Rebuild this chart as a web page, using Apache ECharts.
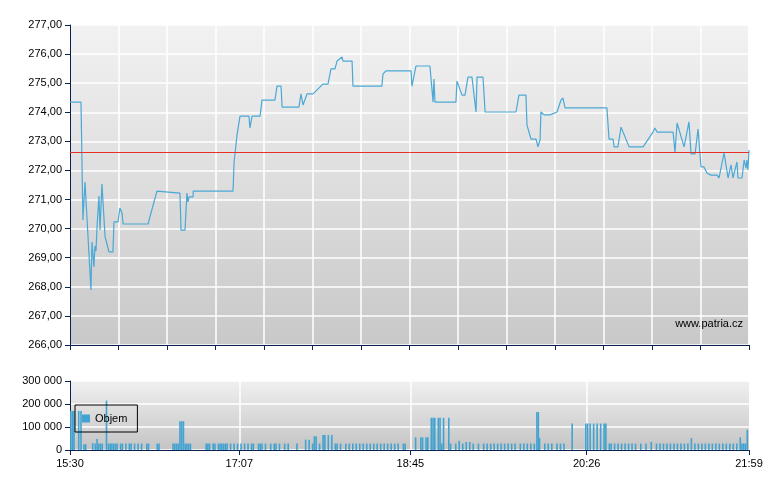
<!DOCTYPE html>
<html>
<head>
<meta charset="utf-8">
<script src="https://cdn.jsdelivr.net/npm/echarts@6/dist/echarts.min.js"></script>
<style>html,body{margin:0;padding:0;background:#fff}#c{width:780px;height:490px}</style>
</head>
<body>
<div id="c"></div>
<script>
// minutes after 15:30, price
const price = [
  [0,274.35],[0.6,274.35],[6.3,274.35],[7.4,270.30],[8.0,270.30],[8.6,271.60],[12.0,267.89],[12.6,269.54],[13.7,268.68],
  [14.3,269.40],[14.9,269.23],[15.5,270.09],[16.6,271.12],[17.2,269.95],[18.3,271.53],[20.1,269.71],[20.6,269.61],
  [22.3,269.20],[24.6,269.20],[25.2,270.23],[27.5,270.23],[28.6,270.71],[29.8,270.54],[30.4,270.16],[44.7,270.16],
  [49.8,271.29],[63.0,271.22],[63.6,269.95],[65.9,269.95],[67.0,271.22],[67.6,270.92],[68.2,271.09],[70.5,271.09],
  [70.6,271.29],[93.4,271.29],[94.0,272.29],[95.1,272.29],[95.7,273.22],[97.4,273.87],[102.5,273.87],[103.1,273.46],
  [104.3,273.87],[108.9,273.87],[110.0,274.42],[117.4,274.42],[118.6,274.90],[120.9,274.90],[121.5,274.18],
  [131.2,274.18],[132.3,274.63],[133.5,274.25],[135.8,274.63],[139.2,274.63],[144.9,274.97],[147.8,274.97],
  [149.5,275.49],[151.8,275.49],[153.0,275.76],[155.8,275.90],[156.4,275.76],[161.6,275.76],[162.1,274.90],
  [178.7,274.90],[179.3,275.32],[181.0,275.42],[195.4,275.42],[195.9,274.90],[198.2,275.59],[206.2,275.59],
  [208.0,274.35],[208.5,275.14],[209.1,274.35],[221.1,274.35],[221.7,275.07],[224.6,274.59],[226.3,274.59],
  [228.0,275.21],[230.3,275.21],[232.6,274.01],[233.2,275.21],[236.6,275.21],[237.8,274.01],[255.5,274.01],
  [257.2,274.59],[261.2,274.59],[261.8,273.56],[264.1,273.08],[267.0,273.08],[268.1,272.81],[269.3,273.05],
  [269.8,274.01],[271.6,273.91],[275.0,273.91],[276.1,273.91],[279.0,274.01],[281.3,274.42],[282.4,274.49],
  [283.6,274.15],[307.6,274.15],[308.8,273.08],[311.1,273.08],[311.7,272.81],[313.9,272.81],[315.7,273.49],
  [316.8,273.46],[320.3,272.81],[328.3,272.81],[334.0,273.32],[335.1,273.46],[336.3,273.32],[345.5,273.32],
  [346.6,272.63],[347.8,273.63],[351.8,272.81],[354.6,273.67],[355.8,272.57],[358.1,272.57],[359.8,273.42],
  [361.5,272.12],[363.2,272.12],[364.9,271.91],[367.2,271.84],[370.7,271.84],[371.8,271.74],[374.7,272.60],
  [377.0,271.74],[378.7,272.19],[379.8,271.74],[382.1,272.29],[382.7,271.74],[385.0,271.74],[386.2,272.36],
  [387.3,272.08],[387.8,272.36],[388.4,272.02],[389.0,272.70]
];
const refPrice = 272.63;
const volume = [
  [0.5,170000],[1.5,170000],[2.3,170000],[5,170000],[6.3,170000],[8,25000],[9,25000],[13,30000],[14.5,28000],[15.5,48000],
  [16.5,28000],[17.5,28000],[18.5,28000],[20.9,215000],[22,28000],[23,28000],[24,28000],[25,28000],[26,28000],[27,28000],
  [29,28000],[30,28000],[32,28000],[34,28000],[35,28000],[37,28000],[39,28000],[41,28000],[44,28000],[45,28000],
  [50,28000],[51,28000],[59,28000],[60,28000],[61,28000],[62,28000],[63,125000],[64,125000],[65,125000],[66,28000],
  [67,28000],[68,28000],[69,28000],[78,28000],[79,28000],[80,28000],[82,28000],[83,28000],[85,28000],[86,28000],
  [87,28000],[88,28000],[89,28000],[90,28000],[92,28000],[94,28000],[96,28000],[98,28000],[100,28000],[102,28000],
  [104,28000],[105,28000],[108,28000],[109,28000],[110,28000],[112,28000],[115,28000],[117,28000],[118,28000],
  [120,28000],[123,28000],[125,28000],[130,28000],[135,45000],[137,45000],[139,28000],[140,60000],[141,60000],
  [143,28000],[145,65000],[146,65000],[148,65000],[150,65000],[152,28000],[153,28000],[155,28000],[158,28000],
  [160,28000],[162,28000],[164,28000],[166,28000],[168,28000],[170,28000],[172,28000],[174,28000],[176,28000],
  [178,28000],[180,28000],[182,28000],[184,28000],[186,28000],[188,28000],[191,28000],[192,28000],
  [198,55000],[201,55000],[202,55000],[204,55000],[205,55000],[207,140000],[208,140000],[209,140000],[211,140000],
  [212,140000],[213,28000],[214,140000],[217,140000],[218,28000],[221,28000],[223,40000],[225,28000],[227,35000],
  [229,35000],[231,28000],[234,28000],[237,28000],[239,28000],[241,28000],[243,28000],[245,28000],[247,28000],
  [249,28000],[251,28000],[253,28000],[255,28000],[258,28000],[260,28000],[262,28000],[264,28000],[266,28000],
  [267.5,165000],[268.3,165000],[269,52000],[272,28000],[274,28000],[276,28000],[279,28000],[281,28000],[283,28000],
  [287.7,115000],[295.5,115000],[296.5,115000],[298,115000],[300,115000],[302,115000],[304,115000],[306,115000],
  [307,115000],[309,28000],[310,28000],[312,28000],[314,28000],[316,28000],[318,28000],[320,28000],[322,28000],
  [324,28000],[327,28000],[330,28000],[333,35000],[336,28000],[338,28000],[340,28000],[342,28000],[344,28000],
  [346,28000],[348,28000],[350,28000],[352,28000],[354,28000],[356,52000],[358,28000],[360,28000],[362,28000],
  [364,28000],[366,28000],[368,28000],[370,28000],[372,28000],[374,28000],[376,28000],[378,28000],[380,28000],
  [382,28000],[384,55000],[385,28000],[386,28000],[387,28000],[388,88000]
];
const timeTicks = [0, 97, 195, 296, 389];
const timeLabels = ["15:30", "17:07", "18:45", "20:26", "21:59"];

const navy = "#0b2150";
const bg = new echarts.graphic.LinearGradient(0, 0, 0, 1, [
  { offset: 0, color: "#f2f2f2" }, { offset: 1, color: "#c8c8c8" }
]);
const lab = { color: "#000", fontFamily: "Arial, Liberation Sans", fontSize: 11 };

const chart = echarts.init(document.getElementById("c"));
chart.setOption({
  animation: false,
  grid: [
    { left: 70, right: 31, top: 25, height: 320, show: true, backgroundColor: bg, borderWidth: 0 },
    { left: 70, right: 31, top: 381, height: 69, show: true, backgroundColor: new echarts.graphic.LinearGradient(0, 0, 0, 1, [
      { offset: 0, color: "#f0f0f0" }, { offset: 1, color: "#c4c4c4" }]), borderWidth: 0 }
  ],
  legend: {
    left: 75, top: 405, data: ["Objem"], orient: "vertical",
    padding: [8, 10, 8, 7], borderColor: "#000", borderWidth: 1, itemWidth: 8, itemHeight: 8,
    itemGap: 0, textStyle: { ...lab, fontSize: 11 }, icon: "rect", selectedMode: false
  },
  xAxis: [
    { type: "value", gridIndex: 0, min: 0, max: 389, interval: 389 / 14,
      axisLine: { onZero: false, lineStyle: { color: navy } },
      axisTick: { length: 5, lineStyle: { color: navy } },
      axisLabel: { show: false },
      splitLine: { lineStyle: { color: "#fff", width: 1.5 } } },
    { type: "value", gridIndex: 1, min: 0, max: 389,
      axisLine: { onZero: false, lineStyle: { color: navy } },
      axisTick: { customValues: timeTicks, length: 5, lineStyle: { color: navy } },
      axisLabel: { ...lab, customValues: timeTicks, formatter: v => timeLabels[timeTicks.indexOf(v)] || "" },
      splitLine: { show: false } }
  ],
  yAxis: [
    { type: "value", gridIndex: 0, min: 266, max: 277, interval: 1,
      axisLine: { show: true, lineStyle: { color: navy } },
      axisTick: { show: true, length: 5, lineStyle: { color: navy } },
      axisLabel: { ...lab, formatter: v => v.toFixed(2).replace(".", ",") },
      splitLine: { lineStyle: { color: "#fff", width: 1.5 } } },
    { type: "value", gridIndex: 1, min: 0, max: 300000, interval: 100000,
      axisLine: { show: true, lineStyle: { color: navy } },
      axisTick: { show: true, length: 5, lineStyle: { color: navy } },
      axisLabel: { ...lab, formatter: v => v === 0 ? "0" : String(v).replace(/\B(?=(\d{3})+$)/g, " ") },
      splitLine: { lineStyle: { color: "#fff", width: 1.5 } } }
  ],
  series: [
    { type: "line", name: "Kurz", xAxisIndex: 0, yAxisIndex: 0, data: price, showSymbol: false,
      lineStyle: { color: "#4aa8d6", width: 1.2 }, itemStyle: { color: "#4aa8d6" },
      markLine: { silent: true, symbol: "none", label: { show: false },
        lineStyle: { color: "#e8302a", type: "solid", width: 1 }, data: [{ yAxis: refPrice }] } },
    { type: "bar", name: "Objem", xAxisIndex: 1, yAxisIndex: 1, data: volume, barWidth: 1.6,
      itemStyle: { color: "#42a3d1" },
      markLine: { silent: true, symbol: "none", label: { show: false }, z: 1,
        lineStyle: { color: "#fff", type: "solid", width: 1.5 },
        data: timeTicks.slice(1, 4).map(v => ({ xAxis: v })) } }
  ],
  graphic: [{ type: "text", right: 37, top: 318, style: { text: "www.patria.cz", fill: "#000", font: "11px Arial, Liberation Sans" } }]
});
</script>
</body>
</html>
